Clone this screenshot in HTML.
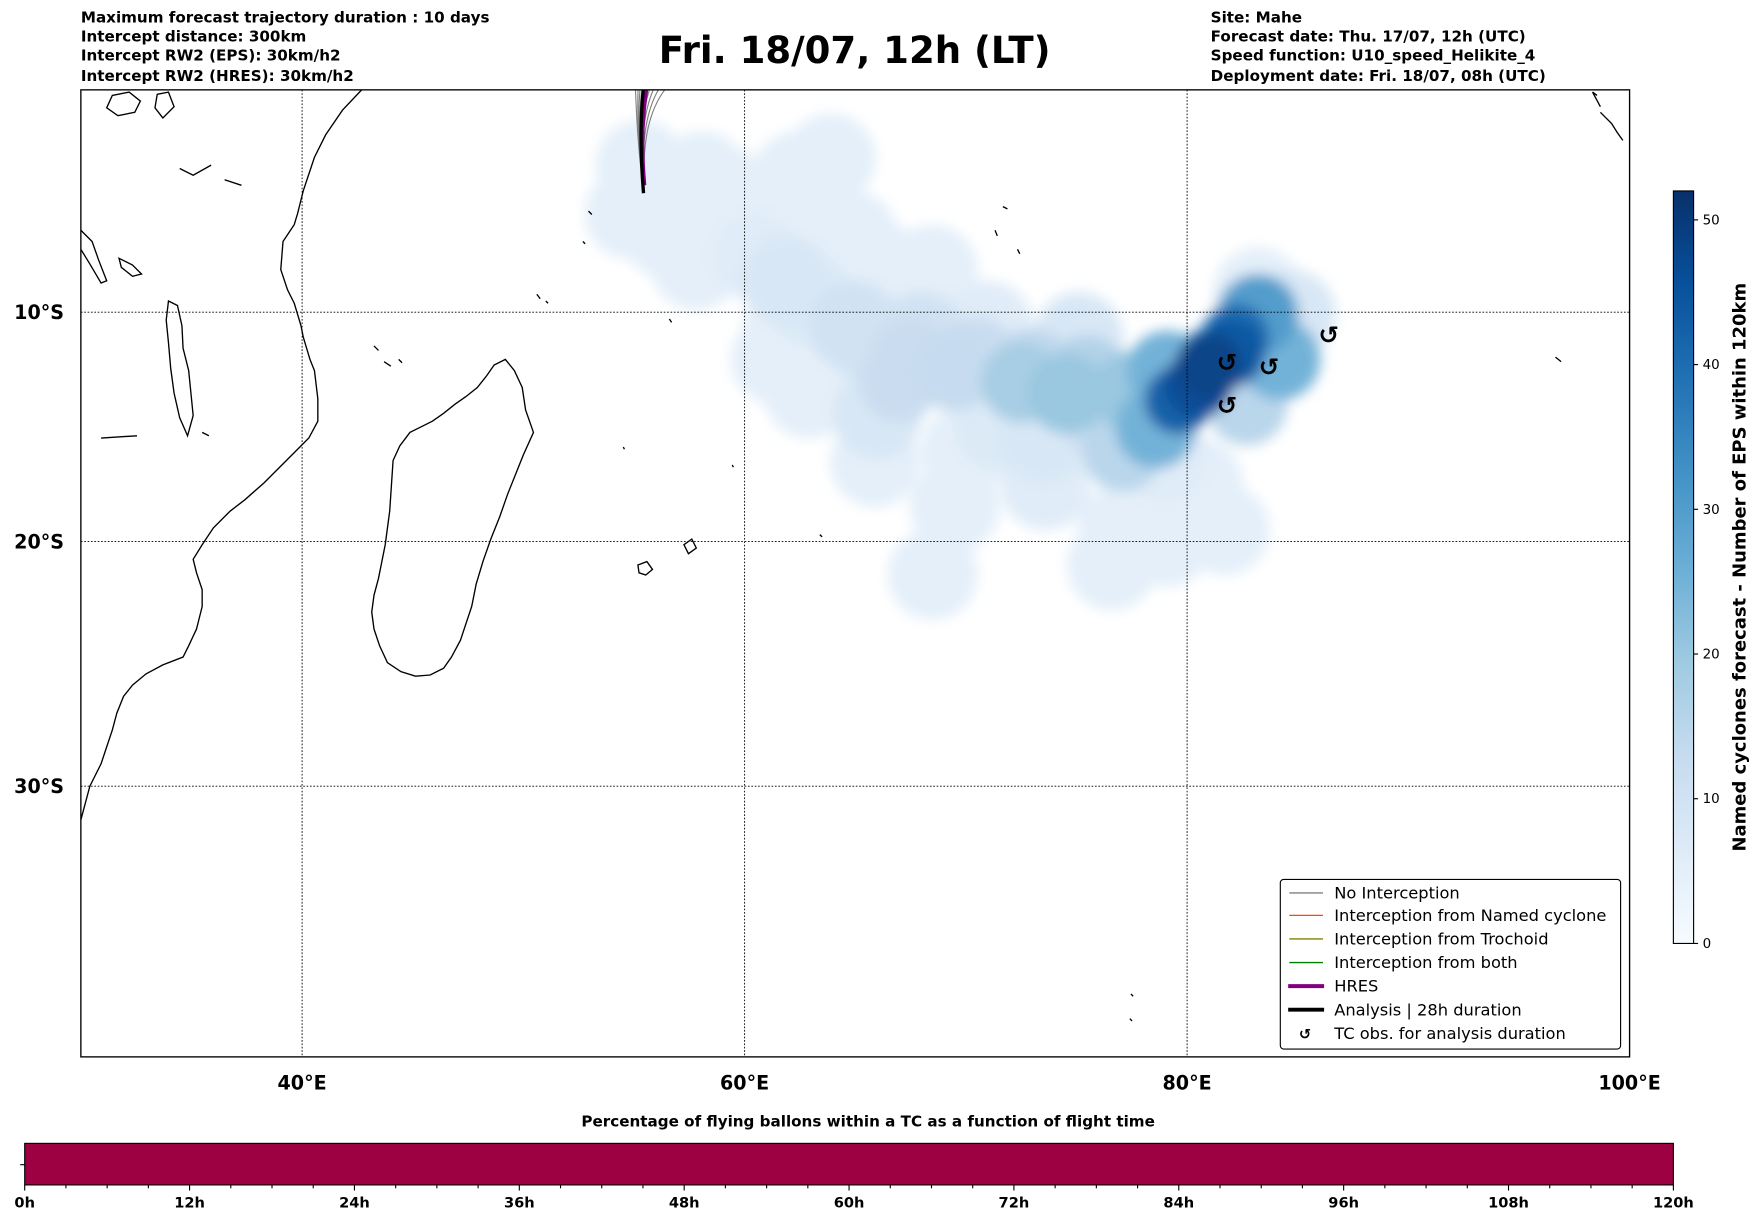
<!DOCTYPE html>
<html><head><meta charset="utf-8"><style>
html,body{margin:0;padding:0;background:#fff}
svg{display:block;font-family:"DejaVu Sans","Liberation Sans",sans-serif}
</style></head><body>
<svg id="chart" width="1752" height="1213" viewBox="0 0 1560 1080" preserveAspectRatio="none" xmlns="http://www.w3.org/2000/svg">
<defs>
<filter id="blur" x="-50%" y="-50%" width="200%" height="200%"><feGaussianBlur stdDeviation="6"/></filter>
<clipPath id="mapclip"><rect x="72" y="80" width="1379" height="861"/></clipPath>
<linearGradient id="blues" x1="0" y1="1" x2="0" y2="0">
<stop offset="0" stop-color="#f7fbff"/><stop offset="0.125" stop-color="#deebf7"/><stop offset="0.25" stop-color="#c6dbef"/><stop offset="0.375" stop-color="#9ecae1"/><stop offset="0.5" stop-color="#6baed6"/><stop offset="0.625" stop-color="#4292c6"/><stop offset="0.75" stop-color="#2171b5"/><stop offset="0.875" stop-color="#08519c"/><stop offset="1" stop-color="#08306b"/>
</linearGradient>
</defs>
<g font-size="13.5" font-weight="bold">
<text x="72" y="20">Maximum forecast trajectory duration : 10 days</text>
<text x="72" y="37">Intercept distance: 300km</text>
<text x="72" y="54">Intercept RW2 (EPS):  30km/h2</text>
<text x="72" y="72">Intercept RW2 (HRES): 30km/h2</text>
</g>
<text x="761" y="56" font-size="33" font-weight="bold" text-anchor="middle">Fri. 18/07, 12h (LT)</text>
<g font-size="13.5" font-weight="bold">
<text x="1078" y="20">Site: Mahe</text>
<text x="1078" y="37">Forecast date: Thu. 17/07, 12h (UTC)</text>
<text x="1078" y="54">Speed function: U10_speed_Helikite_4</text>
<text x="1078" y="72">Deployment date: Fri. 18/07, 08h (UTC)</text>
</g>
<g id="map" clip-path="url(#mapclip)">
<rect x="72" y="80" width="1379" height="861" fill="#fff"/>
<g id="density" filter="url(#blur)"></g>
<g id="grid"></g>
<g fill="none" stroke="#000" stroke-width="1.2">
<path d="M322,80 L305,98 L290,120 L280,140 L270,170 L265,190 L262,200 L252,215 L250,240 L256,258 L262,270 L268,290 L270,300 L276,320 L280,330 L283,355 L283,375 L275,390 L265,400 L250,415 L235,430 L218,445 L205,455 L190,470 L180,485 L172,498 L175,510 L180,525 L180,540 L177,552 L175,560 L168,575 L163,585 L145,592 L130,600 L118,610 L110,620 L104,635 L100,650 L95,665 L90,680 L80,700 L72,730"/>
<path d="M450,320 L458,330 L465,345 L468,365 L475,385 L466,405 L460,420 L452,440 L445,460 L437,480 L430,500 L424,520 L420,540 L415,555 L410,570 L402,585 L395,595 L383,601 L370,602 L357,598 L345,590 L338,575 L333,560 L331,545 L333,530 L337,515 L340,500 L343,485 L345,470 L347,455 L348,440 L349,425 L350,410 L356,397 L365,385 L375,380 L385,375 L395,368 L405,360 L415,353 L425,345 L433,335 L440,325 Z"/>
<path d="M100,85 L115,82 L125,90 L120,100 L105,103 L95,96 Z M140,84 L150,82 L155,95 L145,105 L138,96 Z"/>
<path d="M72,205 L82,215 L88,232 L95,250 L90,252 L80,235 L72,222"/>
<path d="M150,268 L158,272 L162,290 L163,310 L168,330 L170,350 L172,370 L167,388 L160,372 L155,350 L152,328 L150,305 L148,285 Z"/>
<path d="M106,230 L118,236 L126,244 L118,246 L108,238 Z M90,390 L122,388 M180,385 L186,388"/>
<path d="M609,485 L616,480 L620,488 L613,493 Z"/>
<path d="M568,503 L576,500 L581,507 L575,512 L569,510 Z"/>
<path d="M333,308 L337,312 M342,322 L348,326 M355,320 L358,323"/>
<path d="M524,188 L527,191 M519,215 L521,217 M478,262 L481,266 M486,268 L488,270 M596,284 L598,287 M555,398 L556,400 M652,414 L653,416 M893,184 L897,186 M886,205 L888,210 M906,222 L908,226 M730,476 L732,478 M1385,318 L1390,322 M1007,885 L1009,887 M1006,907 L1008,909 M1418,82 L1425,95 M1425,100 L1435,110 L1440,118 L1445,125 M1418,82 L1422,85 M160,150 L172,156 L188,147 M200,160 L215,165"/>
</g>
<g id="traj" fill="none"></g>
<g id="tcobs"></g>
</g>
<rect x="72" y="80" width="1379" height="861" fill="none" stroke="#000" stroke-width="1.2"/>
<g id="axislabels" font-size="17" font-weight="bold"></g>
<g font-size="14.5">
<rect x="1140" y="783" width="303" height="151" rx="3" fill="#fff" stroke="#000" stroke-width="1"/>
<line x1="1148" y1="795" x2="1178" y2="795" stroke="#808080" stroke-width="1.2"/><text x="1188" y="800">No Interception</text>
<line x1="1148" y1="815" x2="1178" y2="815" stroke="#ff4500" stroke-width="1.2"/><text x="1188" y="820">Interception from Named cyclone</text>
<line x1="1148" y1="836" x2="1178" y2="836" stroke="#808000" stroke-width="1.2"/><text x="1188" y="841">Interception from Trochoid</text>
<line x1="1148" y1="857" x2="1178" y2="857" stroke="#008000" stroke-width="1.2"/><text x="1188" y="862">Interception from both</text>
<line x1="1147" y1="878" x2="1179" y2="878" stroke="#800080" stroke-width="3.5"/><text x="1188" y="883">HRES</text>
<line x1="1147" y1="899" x2="1179" y2="899" stroke="#000" stroke-width="3.5"/><text x="1188" y="904">Analysis | 28h duration</text>
<text x="1162" y="925" font-weight="bold" font-size="13" text-anchor="middle">↺</text><text x="1188" y="925">TC obs. for analysis duration</text>
</g>
<g>
<rect x="1490" y="170" width="18" height="670" fill="url(#blues)" stroke="#000" stroke-width="1"/>
<g id="cbticks" font-size="12"></g>
<text transform="translate(1554,505) rotate(-90)" font-size="16" font-weight="bold" text-anchor="middle">Named cyclones forecast - Number of EPS within 120km</text>
</g>
<g>
<text x="773" y="1003" font-size="13.5" font-weight="bold" text-anchor="middle">Percentage of flying ballons within a TC as a function of flight time</text>
<rect id="pctbar" x="22" y="1018" width="1468" height="37" fill="#9e0142" stroke="#000" stroke-width="1"/>
<line x1="18" y1="1037" x2="22" y2="1037" stroke="#000"/>
<g id="hticks" font-size="13" font-weight="bold"></g>
</g>
</svg>
<script>
const NS='http://www.w3.org/2000/svg';
// density data: lon, lat(S), count
const blobLon=[55.3,54.8,58.1,57.8,59.8,62.4,63.9,62.6,61.9,64.9,66.4,64.9,68.5,68.0,61.4,62.9,67.0,69.5,71.0,72.5,74.6,75.1,65.9,70.0,69.5,73.6,77.1,77.1,76.6,79.1,81.7,79.1,78.6,81.2,79.6,82.2,83.2,84.2,83.2,84.7,82.7,68.5,80.5,81.0,82.0,60.5,63.0,65.5,67.5,70.5,73.0,75.5,77.5,66.0,71.5,76.0,79.0,80.5,62.0,64.0,56.5,59.0,73.5,78.0];
const blobLat=[3.4,5.6,3.9,7.9,6.1,3.9,3.1,5.8,8.6,6.6,8.1,10.6,8.1,11.1,12.1,13.6,13.1,12.6,10.6,13.1,13.6,11.1,16.6,16.1,18.5,17.6,16.1,19.5,21.0,20.0,19.5,12.6,15.1,12.1,13.9,11.1,10.1,12.1,9.1,10.1,14.1,21.4,13.2,12.4,11.8,7.5,9.5,11.0,12.0,12.0,12.5,12.8,13.5,14.5,15.0,14.5,16.5,17.5,10.5,8.5,6.5,4.5,15.5,18.0];
const blobVal=[3,2,2,3,5,3,3,4,8,4,5,10,4,10,4,4,12,13,6,18,20,8,4,5,3,6,15,4,3,3,2,25,25,35,42,40,30,25,5,8,15,3,46,48,44,6,7,10,12,12,14,16,20,8,7,12,6,4,5,5,3,4,8,5];
const cbTicks=[0,10,20,30,40,50];
const cbMax=52;
const lonTicks=[40,60,80,100];
const latTicks=[10,20,30];
const hourTicks=[0,12,24,36,48,60,72,84,96,108,120];
const tcLon=[81.8,83.7,81.8,86.4];
const tcLat=[12.2,12.4,14.1,11.0];
function x(lon){return 72+(lon-30)*19.7;}
function y(lat){const r=lat*Math.PI/180;return 80+1128.6*Math.log(Math.tan(Math.PI/4+r/2));}
const stops=[[247,251,255],[222,235,247],[198,219,239],[158,202,225],[107,174,214],[66,146,198],[33,113,181],[8,81,156],[8,48,107]];
function color(v){let t=Math.max(0,Math.min(1,v/cbMax))*(stops.length-1);let i=Math.min(stops.length-2,Math.floor(t));let f=t-i;
 const c=stops[i].map((a,k)=>Math.round(a+(stops[i+1][k]-a)*f));return 'rgb('+c.join(',')+')';}
const dens=document.getElementById('density');
const order=blobVal.map((v,i)=>i).sort((a,b)=>blobVal[a]-blobVal[b]);
order.forEach(i=>{const c=document.createElementNS(NS,'circle');
 
 
 c.setAttribute('cx',x(blobLon[i]));c.setAttribute('cy',y(blobLat[i]));
 const v=blobVal[i];c.setAttribute('r',v>30?30:(v>10?36:40));
 c.setAttribute('fill',color(v<6?5:v));dens.appendChild(c);});
const grid=document.getElementById('grid');
lonTicks.forEach(l=>{const ln=document.createElementNS(NS,'line');
 
 
 ln.setAttribute('x1',x(l));ln.setAttribute('x2',x(l));ln.setAttribute('y1',80);ln.setAttribute('y2',941);
 ln.setAttribute('stroke','#000');ln.setAttribute('stroke-width','0.8');ln.setAttribute('stroke-dasharray','1.5,1.5');grid.appendChild(ln);});
latTicks.forEach(l=>{const ln=document.createElementNS(NS,'line');
 
 
 ln.setAttribute('y1',y(l));ln.setAttribute('y2',y(l));ln.setAttribute('x1',72);ln.setAttribute('x2',1451);
 ln.setAttribute('stroke','#000');ln.setAttribute('stroke-width','0.8');ln.setAttribute('stroke-dasharray','1.5,1.5');grid.appendChild(ln);});
const al=document.getElementById('axislabels');
lonTicks.forEach(l=>{const t=document.createElementNS(NS,'text');
 
 
 t.setAttribute('x',x(l));t.setAttribute('y',970);t.setAttribute('text-anchor','middle');t.textContent=l+'°E';al.appendChild(t);});
latTicks.forEach(l=>{const t=document.createElementNS(NS,'text');
 
 
 t.setAttribute('x',57);t.setAttribute('y',y(l)+6);t.setAttribute('text-anchor','end');t.textContent=l+'°S';al.appendChild(t);});
const traj=document.getElementById('traj');
const trajOff=[-1.2,-0.8,-0.5,-0.2,0.1,0.4,0.7,1.0,1.6,2.4,3.4];
trajOff.forEach(o=>{const p=document.createElementNS(NS,'path');
 
 
 const x0=573,y0=170;p.setAttribute('d','M'+x0+','+y0+' C'+(x0-4+o)+','+(y0-40)+' '+(x0-4+o*2)+','+(y0-70)+' '+(x0+o*6)+',78');
 p.setAttribute('stroke','#808080');p.setAttribute('stroke-width','1');traj.appendChild(p);});
const hr=document.createElementNS(NS,'path');


hr.setAttribute('d','M574,165 C571,130 572,105 576,78');hr.setAttribute('stroke','#800080');hr.setAttribute('stroke-width','3');traj.appendChild(hr);
const an=document.createElementNS(NS,'path');


an.setAttribute('d','M573,172 C570,135 570,105 573,78');an.setAttribute('stroke','#000');an.setAttribute('stroke-width','3');traj.appendChild(an);
const tc=document.getElementById('tcobs');
tcLon.forEach((l,i)=>{const t=document.createElementNS(NS,'text');
 
 
 t.setAttribute('x',x(l));t.setAttribute('y',y(tcLat[i])+8);t.setAttribute('text-anchor','middle');t.setAttribute('font-size','22');t.setAttribute('font-weight','bold');t.textContent='↺';tc.appendChild(t);});
const cbt=document.getElementById('cbticks');
cbTicks.forEach(v=>{const yy=840-v/cbMax*670;
 const ln=document.createElementNS(NS,'line');
 
 
 ln.setAttribute('x1',1508);ln.setAttribute('x2',1512);ln.setAttribute('y1',yy);ln.setAttribute('y2',yy);ln.setAttribute('stroke','#000');cbt.appendChild(ln);
 const t=document.createElementNS(NS,'text');
 
 
 t.setAttribute('x',1516);t.setAttribute('y',yy+4);t.textContent=v;cbt.appendChild(t);});
const ht=document.getElementById('hticks');
for(let h=0;h<=120;h+=3){const xx=22+h/120*1468;const major=h%12===0;
 const ln=document.createElementNS(NS,'line');
 
 
 ln.setAttribute('x1',xx);ln.setAttribute('x2',xx);ln.setAttribute('y1',1055);ln.setAttribute('y2',major?1060:1058);ln.setAttribute('stroke','#000');ht.appendChild(ln);}
hourTicks.forEach(h=>{const t=document.createElementNS(NS,'text');
 
 
 t.setAttribute('x',22+h/120*1468);t.setAttribute('y',1075);t.setAttribute('text-anchor','middle');t.textContent=h+'h';ht.appendChild(t);});
</script>
</body></html>
